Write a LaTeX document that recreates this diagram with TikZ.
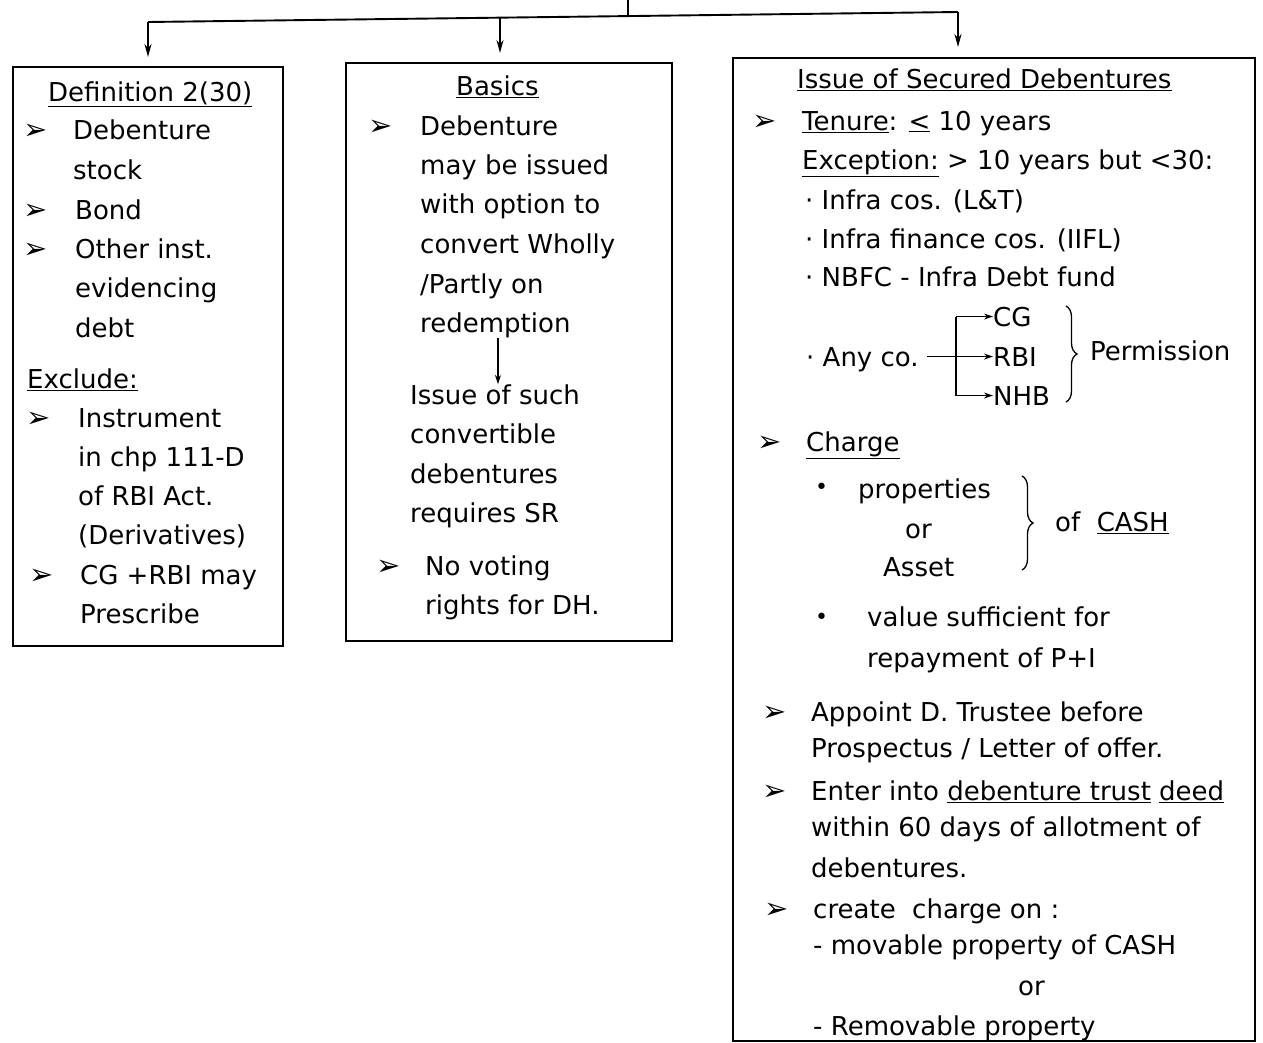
\documentclass[tikz,border=0pt]{standalone}
\usepackage{fontspec}
\setmainfont{DejaVu Sans}
\usetikzlibrary{arrows.meta,decorations.pathreplacing}
\begin{document}
\begin{tikzpicture}[x=1pt,y=-1pt,
  txt/.style={anchor=base west, inner sep=0pt, font=\fontsize{26}{30}\selectfont},
  bul/.style={anchor=base west, inner sep=0pt, font=\fontsize{29}{32}\selectfont},
  dot/.style={anchor=base west, inner sep=0pt, font=\fontsize{22}{26}\selectfont},
  box/.style={draw, line width=1.9pt, anchor=north west, inner sep=0pt},
  conn/.style={line width=1.9pt},
  arr/.style={conn, -{Stealth[length=13pt,width=7pt]}},
  sarr/.style={line width=1.2pt, -{Stealth[length=9pt,width=6pt,open]}},
  brc/.style={decorate, decoration={brace, amplitude=11pt}, line width=1.3pt}]
\useasboundingbox (0,0) rectangle (1263,1042);

% boxes
\node[box, minimum width=270pt, minimum height=579pt] (b1) at (12,66) {};
\node[box, minimum width=326pt, minimum height=578pt] (b2) at (345,62) {};
\node[box, minimum width=522pt, minimum height=983pt] (b3) at (732,57) {};

% header connectors
\coordinate (top) at (628,0);
\coordinate (j) at (628,16);
\coordinate (hl) at (148,22);
\coordinate (hm) at (500,17.6);
\coordinate (hr) at (958,12);
\coordinate (a1) at (148,57);
\coordinate (a2) at (500,53);
\coordinate (a3) at (958,47);
\draw[conn] (top) -- (j);
\draw[conn] (hl) -- (hr);
\draw[arr] (hl) -- (a1);
\draw[arr] (hm) -- (a2);
\draw[arr] (hr) -- (a3);

% box 1
\node[txt] (d0) at (48,101) {\underline{Definition 2(30)}};
\node[bul] (d1b) at (23,139) {➢};
\node[txt] (d1) at (73,139) {Debenture};
\node[txt] (d2) at (73,179) {stock};
\node[bul] (d3b) at (23,219) {➢};
\node[txt] (d3) at (75,219) {Bond};
\node[bul] (d4b) at (23,258) {➢};
\node[txt] (d4) at (75,258) {Other inst.};
\node[txt] (d5) at (75,297) {evidencing};
\node[txt] (d6) at (75,337) {debt};
\node[txt] (e0) at (27,388) {\underline{Exclude:}};
\node[bul] (e1b) at (26,427) {➢};
\node[txt] (e1) at (78,427) {Instrument};
\node[txt] (e2) at (78,466) {in chp 111-D};
\node[txt] (e3) at (78,505) {of RBI Act.};
\node[txt] (e4) at (78,544) {(Derivatives)};
\node[bul] (e5b) at (29,584) {➢};
\node[txt] (e5) at (80,584) {CG +RBI may};
\node[txt] (e6) at (80,623) {Prescribe};

% box 2
\node[txt] (s0) at (456,95) {\underline{Basics}};
\node[bul] (s1b) at (368,135) {➢};
\node[txt] (s1) at (420,135) {Debenture};
\node[txt] (s2) at (420,174) {may be issued};
\node[txt] (s3) at (420,213) {with option to};
\node[txt] (s4) at (420,253) {convert Wholly};
\node[txt] (s5) at (420,293) {/Partly on};
\node[txt] (s6) at (420,332) {redemption};
\node[txt] (s7) at (410,404) {Issue of such};
\node[txt] (s8) at (410,443) {convertible};
\node[txt] (s9) at (410,483) {debentures};
\node[txt] (s10) at (410,522) {requires SR};
\node[bul] (s11b) at (376,575) {➢};
\node[txt] (s11) at (425,575) {No voting};
\node[txt] (s12) at (425,614) {rights for DH.};
\coordinate (s6a) at (498,338);
\draw[sarr] (s6a) -- (s7.north -| s6a);

% box 3
\node[txt] (i0) at (797,88) {\underline{Issue of Secured Debentures}};
\node[bul] (i1b) at (752,130) {➢};
\node[txt] (i1) at (802,130) {\underline{Tenure}: \underline{<} 10 years};
\node[txt] (i2) at (802,169) {\underline{Exception:} > 10 years but <30:};
\node[txt] (i3) at (805,209) {· Infra cos. (L\&T)};
\node[txt] (i4) at (805,248) {· Infra finance cos. (IIFL)};
\node[txt] (i5) at (805,286) {· NBFC - Infra Debt fund};
\node[txt] (any) at (806,366) {· Any co.};
\node[txt] (cg) at (993,326) {CG};
\node[txt] (rbi) at (993,366) {RBI};
\node[txt] (nhb) at (993,405) {NHB};
\coordinate (br) at (956,358);
\coordinate (anyend) at ([xshift=8pt]any.east);
\draw[line width=1.2pt] (cg.west -| br) -- (nhb.west -| br);
\draw[sarr] (anyend |- rbi.west) -- (rbi.west);
\draw[sarr] (cg.west -| br) -- (cg.west);
\draw[sarr] (nhb.west -| br) -- (nhb.west);
\draw[brc] (1066,306) -- (1066,402);
\node[txt] (perm) at (1090,360) {Permission};

\node[bul] (c0b) at (757,451) {➢};
\node[txt] (c0) at (806,451) {\underline{Charge}};
\node[dot] (c1b) at (815,494) {•};
\node[txt] (c1) at (858,498) {properties};
\node[txt] (c2) at (905,538) {or};
\node[txt] (c3) at (883,576) {Asset};
\draw[brc] (1022,476) -- (1022,570);
\node[txt] (c4) at (1055,531) {of \ \underline{CASH}};
\node[dot] (c5b) at (815,624) {•};
\node[txt] (c5) at (867,626) {value sufficient for};
\node[txt] (c6) at (867,667) {repayment of P+I};

\node[bul] (p1b) at (762,721) {➢};
\node[txt] (p1) at (811,721) {Appoint D. Trustee before};
\node[txt] (p2) at (811,757) {Prospectus / Letter of offer.};
\node[bul] (q1b) at (762,800) {➢};
\node[txt] (q1) at (811,800) {Enter into \underline{debenture trust} \underline{deed}};
\node[txt] (q2) at (811,836) {within 60 days of allotment of};
\node[txt] (q3) at (811,877) {debentures.};
\node[bul] (r1b) at (764,918) {➢};
\node[txt] (r1) at (813,918) {create \ charge on :};
\node[txt] (r2) at (813,954) {- movable property of CASH};
\node[txt] (r3) at (1018,995) {or};
\node[txt] (r4) at (813,1035) {- Removable property};
\end{tikzpicture}
\end{document}
